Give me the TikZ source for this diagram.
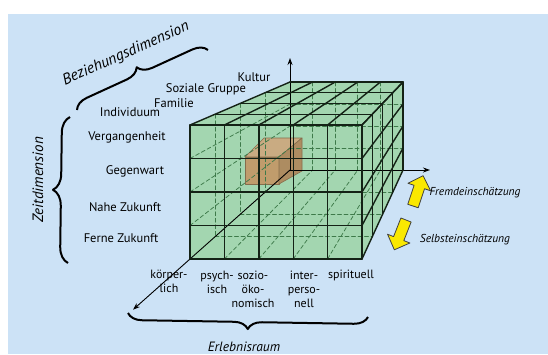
\documentclass[tikz,border=0pt]{standalone}
\usepackage{fontspec}
\setmainfont{PT Sans}
\usetikzlibrary{calc,decorations.pathreplacing,arrows.meta}
\definecolor{paper}{RGB}{204,226,246}
\definecolor{cubegreen}{RGB}{163,214,176}
\definecolor{boxbrown}{RGB}{192,156,108}
\definecolor{gridline}{RGB}{20,34,22}
\definecolor{hiddenline}{RGB}{62,122,74}
\definecolor{arrowyellow}{RGB}{250,232,0}
\begin{document}
\begin{tikzpicture}[x=1pt, y=-1pt, line join=round, line cap=round,
	edge/.style={line width=1.4pt, draw=gridline},
	hidden/.style={line width=0.75pt, draw=hiddenline, dash pattern=on 4pt off 2.5pt},
	axis/.style={line width=0.9pt, -{Stealth[length=7pt,width=5pt]}},
	lbl/.style={font=\fontsize{12.5}{14.5}\selectfont, align=center, inner sep=0pt},
	col/.style={font=\fontsize{12}{14}\selectfont, align=center, inner sep=0pt},
	ital/.style={font=\fontsize{#1}{16}\selectfont\itshape, inner sep=0pt},
	brc/.style={decorate, decoration={brace, amplitude=#1}, line width=2pt, line cap=butt},
	yarrow/.style={fill=arrowyellow, draw=black!75, line width=0.8pt}]
	
	\useasboundingbox (0,0) rectangle (548,354);
	\fill[white] (0,0) rectangle (548,354);
	\fill[paper] (8,14) rectangle (548,354);
	
	% grid points: column i, row j, depth k
	\foreach \i in {0,...,5}
	\foreach \j in {0,...,4}
	\foreach \k in {0,...,4}
	\coordinate (p\i\j\k) at ({190+34.4*\i+(100-11.8*\i)*\k/4},{125+33.5*\j+(-43-11.5*\j)*\k/4});
	
	\coordinate (zTip) at (290,58);
	\coordinate (xTip) at (430,170);
	\coordinate (yTip) at ($(p044)!1.57!(p040)$);
	
	\fill[cubegreen] (p000) -- (p004) -- (p504) -- (p544) -- (p540) -- (p040) -- cycle;
	
	% box
	\coordinate (bA) at (245,157);
	\coordinate (bB) at (279,157);
	\coordinate (bC) at (279,184);
	\coordinate (bD) at (245,184);
	\coordinate (bE) at (264,138);
	\coordinate (bF) at (302,138);
	\coordinate (bG) at (302,171);
	\filldraw[fill=boxbrown, draw=boxbrown!70!black, line width=0.6pt] (bA) -- (bB) -- (bC) -- (bD) -- cycle;
	\filldraw[fill=boxbrown!85!white, draw=boxbrown!70!black, line width=0.6pt] (bA) -- (bE) -- (bF) -- (bB) -- cycle;
	\filldraw[fill=boxbrown!90!black, draw=boxbrown!70!black, line width=0.6pt] (bB) -- (bF) -- (bG) -- (bC) -- cycle;
	
	% hidden lines
	\foreach \i in {1,...,4} \draw[hidden] (p\i04) -- (p\i44);
	\foreach \j in {1,2,3} \draw[hidden] (p0\j4) -- (p5\j4);
	\foreach \j in {1,2,3} \draw[hidden] (p0\j0) -- (p0\j4);
	\foreach \k in {1,2,3} \draw[hidden] (p00\k) -- (p04\k);
	\foreach \i in {1,...,4} \draw[hidden] (p\i40) -- (p\i44);
	\foreach \k in {1,2,3} \draw[hidden] (p04\k) -- (p54\k);
	
	% axes
	\draw[axis] (p044) -- (zTip);
	\draw[axis] (p044) -- (xTip);
	\draw[axis] (p044) -- (yTip);
	
	% visible lines
	\foreach \i in {0,...,5} \draw[edge] (p\i00) -- (p\i40);
	\foreach \j in {0,...,4} \draw[edge] (p0\j0) -- (p5\j0);
	\foreach \i in {0,...,5} \draw[edge] (p\i00) -- (p\i04);
	\foreach \k in {1,...,4} \draw[edge] (p00\k) -- (p50\k);
	\foreach \j in {0,...,4} \draw[edge] (p5\j0) -- (p5\j4);
	\foreach \k in {1,...,4} \draw[edge] (p50\k) -- (p54\k);
	
	% labels
	\node[lbl] (kultur) at (254,77) {Kultur};
	\node[lbl] (gruppe) at (206,89) {Soziale Gruppe};
	\node[lbl] (familie) at (174,103) {Familie};
	\node[lbl] (indiv) at (130,112) {Individuum};
	\node[lbl] (verg) at (127,137) {Vergangenheit};
	\node[lbl] (gegen) at (135,171) {Gegenwart};
	\node[lbl] (nahe) at (125,207) {Nahe Zukunft};
	\node[lbl] (ferne) at (121,238) {Ferne Zukunft};
	
	\node[col] (koerper) at (169,281) {körper-\\lich};
	\node[col] (psych) at (217,282) {psych-\\isch};
	\node[col] (sozio) at (253,289) {sozio-\\öko-\\nomisch};
	\node[col] (inter) at (304,289) {inter-\\perso-\\nell};
	\node[col] (spirit) at (351,275) {spirituell};
	
	\node[ital=15.5, rotate=24] (bezdim) at (126,54) {Beziehungsdimension};
	\node[ital=15, rotate=90] (zeitdim) at (38,180) {Zeitdimension};
	\node[ital=13.5] (erleb) at (244,347) {Erlebnisraum};
	\node[ital=11.5] (fremd) at (475,193) {Fremdeinschätzung};
	\node[ital=11.5] (selbst) at (465,240) {Selbsteinschätzung};
	
	% braces
	\draw[brc=14] (77,110) -- (208,50);
	\draw[brc=16] (68,263) -- (70,117);
	\draw[brc=14] (368,317) -- (128,313);
	
	% yellow arrows
	\draw[yarrow, shift={(413,206)}, rotate=71.6] (0,-5.5) -- (20,-5.5) -- (20,-12) -- (32,0) -- (20,12) -- (20,5.5) -- (0,5.5) -- cycle;
	\draw[yarrow, shift={(406,220)}, rotate=248.6] (0,-5.5) -- (20,-5.5) -- (20,-12) -- (32,0) -- (20,12) -- (20,5.5) -- (0,5.5) -- cycle;
	
\end{tikzpicture}
\end{document}
